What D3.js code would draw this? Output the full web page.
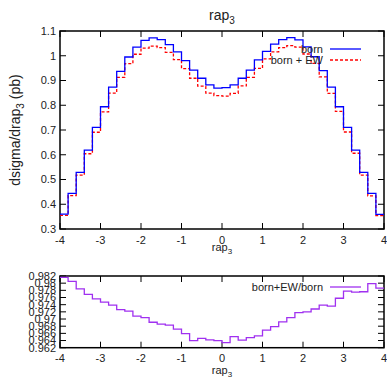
<!DOCTYPE html>
<html><head><meta charset="utf-8">
<script src="https://cdn.jsdelivr.net/npm/d3@7"></script>
<style>
body{margin:0;background:#fff;}
text{font-family:"Liberation Sans",Arial,sans-serif;fill:#222;}
</style></head><body>
<svg id="c" width="387" height="381"></svg>
<script>
const binEdges = d3.range(41).map(i => -4 + i*0.2);
const born = [0.360,0.444,0.529,0.619,0.711,0.794,0.873,0.937,0.995,1.035,
              1.062,1.072,1.065,1.045,1.016,0.980,0.942,0.909,0.882,0.869,
              0.871,0.882,0.909,0.942,0.983,1.018,1.047,1.065,1.073,1.064,
              1.036,0.996,0.940,0.873,0.794,0.711,0.619,0.529,0.444,0.359];
const bornEW = [0.355,0.435,0.518,0.604,0.691,0.773,0.849,0.913,0.968,1.006,
                1.031,1.039,1.033,1.014,0.984,0.948,0.909,0.877,0.849,0.839,
                0.837,0.848,0.878,0.913,0.949,0.987,1.016,1.033,1.041,1.035,
                1.007,0.969,0.915,0.848,0.775,0.692,0.606,0.518,0.434,0.354];
const ratio = [0.9816,0.9805,0.9784,0.9769,0.9756,0.9747,0.9739,0.9726,0.9722,0.9708,
               0.9704,0.9691,0.9686,0.9683,0.9672,0.9659,0.9640,0.9646,0.9642,0.9640,
               0.9634,0.9651,0.9641,0.9648,0.9653,0.9669,0.9679,0.9692,0.9704,0.9718,
               0.9720,0.9728,0.9739,0.9736,0.9758,0.9778,0.9775,0.9776,0.9799,0.9786];
const xTicks = [-4,-3,-2,-1,0,1,2,3,4];
const yTicksTop = [0.3,0.4,0.5,0.6,0.7,0.8,0.9,1,1.1];
const yTicksBot = [0.962,0.964,0.966,0.968,0.97,0.972,0.974,0.976,0.978,0.98,0.982];

const svg = d3.select("#c");
const L = 60, R = 384;
const x = d3.scaleLinear().domain([-4,4]).range([L,R]);
const yT = d3.scaleLinear().domain([0.3,1.1]).range([229,31]);
const yB = d3.scaleLinear().domain([0.962,0.982]).range([347.7,276]);

function stepData(vals){ const d = vals.map((v,i)=>[binEdges[i],v]); d.push([binEdges[40], vals[39]]); return d; }

function frame(y, yTicks, fmt, fontSize){
  const g = svg.append("g");
  const [y0,y1] = y.range();
  xTicks.forEach(t=>{
    g.append("line").attr("x1",x(t)).attr("x2",x(t)).attr("y1",y0).attr("y2",y0-6).attr("stroke","#000");
    g.append("line").attr("x1",x(t)).attr("x2",x(t)).attr("y1",y1).attr("y2",y1+6).attr("stroke","#000");
    g.append("text").attr("x",x(t)).attr("y",y0+14.5).attr("text-anchor","middle").attr("font-size",11).text(t);
  });
  yTicks.forEach(t=>{
    g.append("line").attr("x1",L).attr("x2",L+6).attr("y1",y(t)).attr("y2",y(t)).attr("stroke","#000");
    g.append("line").attr("x1",R).attr("x2",R-6).attr("y1",y(t)).attr("y2",y(t)).attr("stroke","#000");
    g.append("text").attr("x",L-4).attr("y",y(t)).attr("dy","0.35em").attr("text-anchor","end").attr("font-size",fontSize).text(fmt(t));
  });
  g.append("rect").attr("x",L).attr("y",y1).attr("width",R-L).attr("height",y0-y1)
    .attr("fill","none").attr("stroke","#000").attr("stroke-width",1.5);
}

const line = (y)=> d3.line().x(d=>x(d[0])).y(d=>y(d[1])).curve(d3.curveStepAfter);

// top plot
frame(yT, yTicksTop, d=>d3.format("")(+d.toFixed(1)), 11);
svg.append("path").datum(stepData(bornEW)).attr("d",line(yT)).attr("fill","none").attr("stroke","#ff0000").attr("stroke-width",1.3).attr("stroke-dasharray","3,2");
svg.append("path").datum(stepData(born)).attr("d",line(yT)).attr("fill","none").attr("stroke","#0000ff").attr("stroke-width",1.3);

const title = svg.append("text").attr("x",222).attr("y",20).attr("text-anchor","middle").attr("font-size",14);
title.append("tspan").text("rap");
title.append("tspan").attr("font-size",10).attr("dy",4).text("3");

const xl1 = svg.append("text").attr("x",222).attr("y",251).attr("text-anchor","middle").attr("font-size",11);
xl1.append("tspan").text("rap"); xl1.append("tspan").attr("font-size",8).attr("dy",3).text("3");

const yl = svg.append("text").attr("transform","translate(20,130) rotate(-90)").attr("text-anchor","middle").attr("font-size",14);
yl.append("tspan").text("dsigma/drap");
yl.append("tspan").attr("font-size",10).attr("dy",4).text("3");
yl.append("tspan").attr("dy",-4).text(" (pb)");

svg.append("text").attr("x",323).attr("y",49).attr("dy","0.35em").attr("text-anchor","end").attr("font-size",11).text("born");
svg.append("line").attr("x1",330).attr("x2",361).attr("y1",49).attr("y2",49).attr("stroke","#0000ff").attr("stroke-width",1.3);
svg.append("text").attr("x",323).attr("y",60).attr("dy","0.35em").attr("text-anchor","end").attr("font-size",11).text("born + EW");
svg.append("line").attr("x1",330).attr("x2",361).attr("y1",60).attr("y2",60).attr("stroke","#ff0000").attr("stroke-width",1.3).attr("stroke-dasharray","3,2");

// bottom plot
frame(yB, yTicksBot, d=>d3.format("")(+d.toFixed(3)), 11);
svg.append("path").datum(stepData(ratio)).attr("d",line(yB)).attr("fill","none").attr("stroke","#a030f0").attr("stroke-width",1.3);
const xl2 = svg.append("text").attr("x",222).attr("y",374).attr("text-anchor","middle").attr("font-size",11);
xl2.append("tspan").text("rap"); xl2.append("tspan").attr("font-size",8).attr("dy",3).text("3");
svg.append("text").attr("x",323).attr("y",287).attr("dy","0.35em").attr("text-anchor","end").attr("font-size",11).text("born+EW/born");
svg.append("line").attr("x1",330).attr("x2",361).attr("y1",287).attr("y2",287).attr("stroke","#a030f0").attr("stroke-width",1.3);
</script>
</body></html>
